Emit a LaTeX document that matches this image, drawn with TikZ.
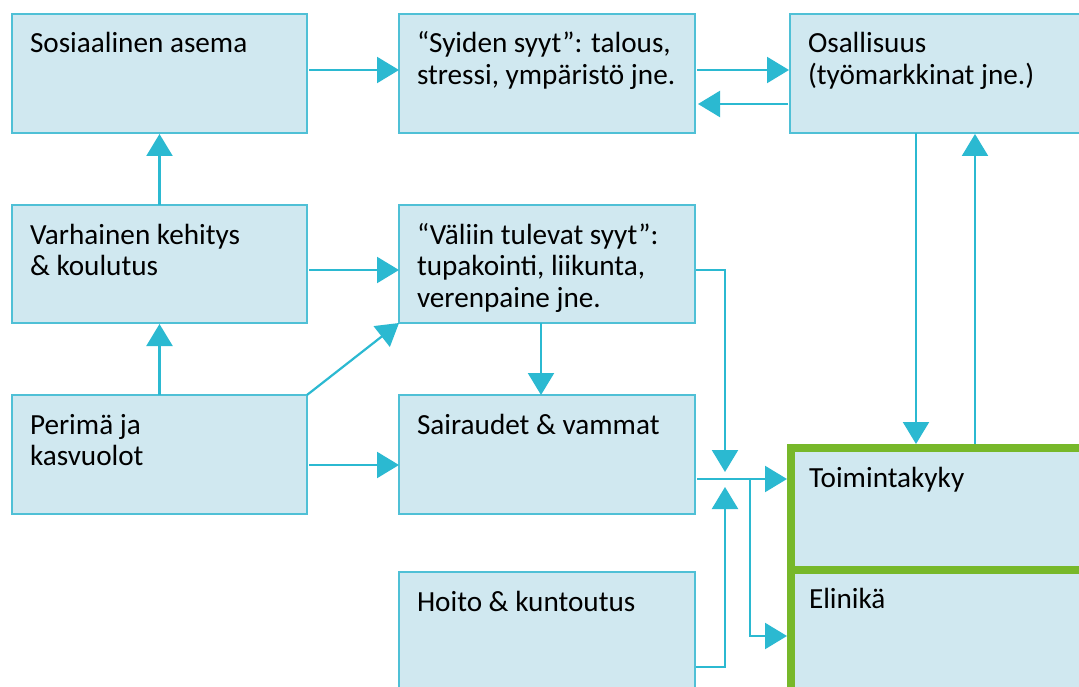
\documentclass[tikz,border=0pt]{standalone}
\usepackage{fontspec}
\setmainfont{Carlito}
\usetikzlibrary{arrows.meta,calc}
\definecolor{boxfill}{HTML}{D0E8F0}
\definecolor{boxline}{HTML}{4FC0D6}
\definecolor{arrc}{HTML}{2BB9D1}
\definecolor{grn}{HTML}{77B82A}
\newcommand{\btxt}[3]{\parbox[t][#2pt][t]{#1pt}{\raggedright\leftskip=18pt\rule{0pt}{39pt}#3}}
\tikzset{
  box/.style={draw=boxline, fill=boxfill, line width=1.2pt, inner sep=0pt, outer sep=0pt, anchor=north west, font=\fontsize{29.2}{31.5}\selectfont},
  grnbox/.style={box, draw=grn, line width=8pt, outer sep=4pt},
  arr/.style={draw=arrc, line width=2.2pt, -{Triangle[length=22pt,width=26pt]}}
}
\begin{document}
\begin{tikzpicture}[x=1pt,y=1pt]
\useasboundingbox (0,0) rectangle (1079,-687);
\fill[white] (0,0) rectangle (1079,-687);
\clip (0,0) rectangle (1079,-687);
\node[box] (soc) at (12,-14) {\btxt{295}{119}{Sosiaalinen asema}};
\node[box] (syi) at (399,-14) {\btxt{296}{119}{“Syiden syyt”: talous,\\ stressi, ympäristö jne.}};
\node[box] (osa) at (790,-14) {\btxt{320}{119}{Osallisuus\\ (työmarkkinat jne.)}};
\node[box] (var) at (12,-205) {\btxt{295}{118}{Varhainen kehitys\\ \& koulutus}};
\node[box] (val) at (399,-205) {\btxt{296}{118}{“Väliin tulevat syyt”:\\ tupakointi, liikunta,\\ verenpaine jne.}};
\node[box] (per) at (12,-395) {\btxt{295}{119}{Perimä ja\\ kasvuolot}};
\node[box] (sai) at (399,-395) {\btxt{296}{119}{Sairaudet \& vammat}};
\node[box] (hoi) at (399,-572) {\btxt{296}{140}{Hoito \& kuntoutus}};
\node[grnbox] (toi) at (787,-444) {\btxt{320}{121.5}{Toimintakyky}};
\node[grnbox] (eli) at (787,-565.5) {\btxt{320}{133}{Elinikä}};
\coordinate (j) at (725,-479);
\coordinate (b) at (750,-479);
\draw[arr] ($(soc.north east)+(2,-56)$) -- ($(syi.north west)+(0,-56)$);
\draw[arr] ($(syi.north east)+(2,-56)$) -- ($(osa.north west)+(-1,-56)$);
\draw[arr] ($(osa.north west)+(-2,-90)$) -- ($(syi.north east)+(3,-90)$);
\draw[arr] ($(osa.south west)+(126,0)$) -- ($(toi.north west)+(129,0)$);
\draw[arr] ($(toi.north west)+(188,0)$) -- ($(osa.south west)+(185,-1)$);
\draw[arr] (var.north) -- ($(soc.south)+(0,-1)$);
\draw[arr] (per.north) -- ($(var.south)+(0,-1)$);
\draw[arr] ($(var.north east)+(2,-65)$) -- ($(val.north west)+(0,-65)$);
\draw[arr] (per.north east) -- (val.south west);
\draw[arr] ($(per.north east)+(2,-70)$) -- ($(sai.north west)+(0,-70)$);
\draw[arr] ($(val.south west)+(142,0)$) -- ($(sai.north west)+(142,0)$);
\draw[arr] ($(val.north east)+(1,-65)$) -| ($(j)+(0,7)$);
\draw[arr] ($(hoi.north east)+(1,-95)$) -| ($(j)+(0,-8)$);
\draw[arr] ($(sai.north east)+(2,-84)$) -- ($(toi.north west)+(0,-35)$);
\draw[arr] (b) |- (eli.west);
\end{tikzpicture}
\end{document}
